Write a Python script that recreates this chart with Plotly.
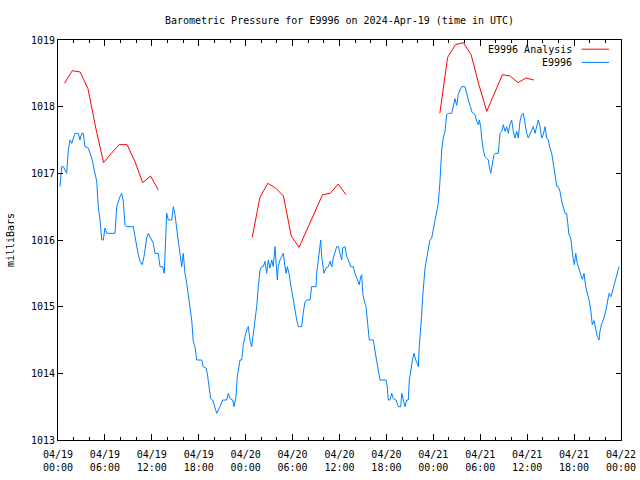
import plotly.graph_objects as go

# ---- data (hours since 2024-04-19 00:00 UTC) ----
obs_hours = [0.26, 0.47, 0.68, 1.11, 1.32, 1.53, 1.75, 2.17, 2.60, 2.81, 3.03, 3.24, 3.45, 3.87, 4.31, 4.73, 4.95,
             5.15, 5.37, 5.59, 5.79, 6.01, 6.23, 7.29, 7.51, 7.93, 8.15, 8.35, 8.57, 8.79, 9.63, 9.85, 10.06, 10.27,
             10.49, 10.78, 11.04, 11.34, 11.55, 11.98, 12.19, 12.40, 12.83, 13.04, 13.39, 13.59, 13.68, 13.81, 13.90,
             14.11, 14.54, 14.75, 14.96, 15.26, 15.51, 15.69, 15.82, 16.02, 16.24, 16.46, 16.66, 16.88, 17.10, 17.30,
             17.52, 17.74, 18.38, 18.58, 18.93, 19.09, 19.35, 19.53, 19.78, 20.08, 20.30, 20.72, 21.06, 21.57, 21.78,
             22.00, 22.34, 22.51, 22.76, 22.93, 23.06, 23.28, 23.49, 23.70, 23.91, 24.13, 24.34, 24.55, 24.77, 24.98,
             25.19, 25.41, 25.62, 25.83, 26.05, 26.25, 26.47, 26.69, 26.89, 27.11, 27.33, 27.53, 27.75, 27.88, 28.05,
             28.17, 28.39, 28.61, 28.81, 29.03, 29.16, 29.32, 29.58, 29.76, 30.01, 30.18, 30.35, 30.53, 30.73, 31.17,
             31.37, 31.59, 31.81, 32.23, 32.44, 32.99, 33.08, 33.29, 33.51, 33.60, 33.72, 33.85, 34.02, 34.27, 34.57,
             34.79, 35.00, 35.21, 35.42, 35.64, 35.85, 36.06, 36.28, 36.41, 36.70, 36.92, 37.13, 37.43, 37.76, 37.98,
             38.20, 38.40, 38.53, 38.71, 38.84, 38.97, 39.13, 39.39, 39.56, 39.68, 39.81, 40.32, 40.54, 40.76, 40.96,
             41.18, 41.95, 42.11, 42.24, 42.46, 42.68, 42.88, 43.23, 43.52, 43.83, 43.96, 44.16, 44.38, 44.59, 44.80,
             44.93, 45.11, 45.36, 45.53, 45.74, 45.95, 46.08, 46.20, 46.38, 46.51, 46.64, 46.81, 46.93, 47.15, 47.36,
             47.57, 47.79, 48.00, 48.21, 48.43, 48.63, 48.85, 48.98, 49.07, 49.27, 49.49, 49.71, 49.91, 50.35, 50.55,
             50.77, 50.99, 51.19, 51.41, 51.63, 52.05, 52.27, 52.47, 52.69, 52.91, 53.11, 53.33, 53.55, 53.75, 53.88,
             54.06, 54.19, 54.39, 54.61, 54.83, 55.03, 55.16, 55.34, 55.46, 55.59, 55.76, 55.89, 56.31, 56.53, 56.75,
             56.95, 57.17, 57.38, 57.59, 57.80, 58.02, 58.23, 58.44, 58.66, 58.87, 59.08, 59.30, 59.51, 59.72, 59.94,
             60.14, 60.36, 60.58, 60.78, 61.00, 61.22, 61.42, 61.64, 61.86, 62.06, 62.28, 62.50, 62.70, 62.92, 63.14,
             63.34, 63.56, 63.78, 63.98, 64.20, 64.42, 64.62, 64.84, 65.05, 65.18, 65.35, 65.57, 65.70, 65.90, 66.03,
             66.21, 66.41, 66.63, 66.85, 67.05, 67.27, 67.49, 67.69, 67.95, 68.16, 68.33, 68.55, 68.76, 68.97, 69.19,
             69.31, 69.53, 69.74, 70.08, 70.25, 70.47, 70.72, 70.89, 71.11, 71.32, 71.53, 71.75]
obs_values = [1016.8, 1017.1, 1017.1, 1017.0, 1017.35, 1017.5, 1017.45, 1017.6, 1017.6, 1017.5, 1017.6, 1017.6,
              1017.4, 1017.38, 1017.23, 1017.03, 1016.88, 1016.5, 1016.3, 1016.0, 1016.0, 1016.18, 1016.1, 1016.1,
              1016.5, 1016.65, 1016.7, 1016.58, 1016.22, 1016.2, 1016.2, 1016.05, 1015.9, 1015.78, 1015.68, 1015.63,
              1015.78, 1016.03, 1016.1, 1016.0, 1015.95, 1015.8, 1015.8, 1015.6, 1015.6, 1015.5, 1015.73, 1016.18,
              1016.4, 1016.3, 1016.3, 1016.5, 1016.38, 1016.1, 1015.9, 1015.7, 1015.6, 1015.8, 1015.5, 1015.35,
              1015.2, 1015.0, 1014.8, 1014.48, 1014.4, 1014.2, 1014.2, 1014.1, 1014.08, 1014.0, 1013.78, 1013.62,
              1013.6, 1013.48, 1013.4, 1013.5, 1013.6, 1013.6, 1013.7, 1013.62, 1013.6, 1013.5, 1013.65, 1013.95,
              1014.05, 1014.2, 1014.2, 1014.43, 1014.55, 1014.65, 1014.7, 1014.5, 1014.4, 1014.6, 1014.8, 1015.0,
              1015.3, 1015.55, 1015.6, 1015.6, 1015.68, 1015.5, 1015.7, 1015.58, 1015.7, 1015.6, 1015.9, 1015.7,
              1015.4, 1015.6, 1015.7, 1015.75, 1015.8, 1015.6, 1015.5, 1015.6, 1015.48, 1015.33, 1015.15, 1015.0,
              1014.88, 1014.8, 1014.7, 1014.7, 1014.92, 1015.07, 1015.1, 1015.1, 1015.3, 1015.3, 1015.5, 1015.7,
              1015.93, 1016.0, 1015.75, 1015.6, 1015.5, 1015.58, 1015.6, 1015.68, 1015.6, 1015.73, 1015.8, 1015.9,
              1015.9, 1015.8, 1015.7, 1015.88, 1015.9, 1015.75, 1015.7, 1015.6, 1015.6, 1015.5, 1015.43, 1015.35,
              1015.33, 1015.45, 1015.48, 1015.2, 1015.1, 1015.0, 1014.8, 1014.65, 1014.5, 1014.5, 1014.3, 1014.18,
              1014.05, 1013.9, 1013.9, 1013.8, 1013.6, 1013.6, 1013.7, 1013.62, 1013.6, 1013.5, 1013.5, 1013.7,
              1013.6, 1013.5, 1013.6, 1013.6, 1013.9, 1014.05, 1014.22, 1014.3, 1014.2, 1014.15, 1014.1, 1014.4,
              1014.63, 1014.88, 1015.15, 1015.38, 1015.57, 1015.73, 1015.9, 1016.0, 1016.03, 1016.15, 1016.28,
              1016.4, 1016.55, 1016.88, 1017.13, 1017.35, 1017.53, 1017.63, 1017.88, 1017.9, 1017.9, 1018.02,
              1018.12, 1018.02, 1018.18, 1018.25, 1018.3, 1018.3, 1018.18, 1018.1, 1018.02, 1017.93, 1017.9,
              1017.88, 1017.78, 1017.73, 1017.8, 1017.7, 1017.53, 1017.35, 1017.25, 1017.22, 1017.2, 1017.1, 1017.0,
              1017.08, 1017.2, 1017.28, 1017.3, 1017.3, 1017.6, 1017.63, 1017.73, 1017.63, 1017.7, 1017.6, 1017.73,
              1017.8, 1017.63, 1017.53, 1017.63, 1017.53, 1017.78, 1017.88, 1017.9, 1017.73, 1017.6, 1017.53,
              1017.58, 1017.63, 1017.7, 1017.6, 1017.73, 1017.8, 1017.7, 1017.53, 1017.58, 1017.7, 1017.53, 1017.5,
              1017.38, 1017.3, 1017.15, 1017.0, 1016.81, 1016.8, 1016.73, 1016.58, 1016.48, 1016.4, 1016.4, 1016.2,
              1016.08, 1016.03, 1015.85, 1015.7, 1015.63, 1015.8, 1015.65, 1015.55, 1015.48, 1015.41, 1015.5,
              1015.3, 1015.2, 1015.08, 1014.92, 1014.73, 1014.79, 1014.65, 1014.55, 1014.5, 1014.63, 1014.75,
              1014.8, 1014.95, 1015.05, 1015.2, 1015.15, 1015.23, 1015.3, 1015.43, 1015.53, 1015.6]

ana_hours = [0.83, 1.83, 2.83, 3.83, 4.83, 5.83, 6.83, 7.83, 8.83, 9.83, 10.83, 11.83, 12.83, None,
             24.83, 25.83, 26.83, 27.83, 28.83, 29.83, 30.83, 31.83, 32.83, 33.83, 34.83, 35.83, 36.83, None,
             48.83, 49.83, 50.83, 51.83, 52.83, 53.83, 54.83, 55.83, 56.83, 57.83, 58.83, 59.83, 60.83]
ana_values = [1018.35, 1018.54, 1018.52, 1018.27, 1017.68, 1017.16, 1017.3, 1017.43, 1017.43, 1017.18, 1016.86,
              1016.96, 1016.75, None,
              1016.04, 1016.64, 1016.85, 1016.78, 1016.66, 1016.06, 1015.89, 1016.15, 1016.42, 1016.68, 1016.7,
              1016.84, 1016.68, None,
              1017.9, 1018.74, 1018.93, 1018.96, 1018.78, 1018.33, 1017.93, 1018.2, 1018.48, 1018.46, 1018.36,
              1018.43, 1018.4]

tick_hours = [0, 6, 12, 18, 24, 30, 36, 42, 48, 54, 60, 66, 72]
tick_labels = ["04/19<br>00:00", "04/19<br>06:00", "04/19<br>12:00", "04/19<br>18:00",
               "04/20<br>00:00", "04/20<br>06:00", "04/20<br>12:00", "04/20<br>18:00",
               "04/21<br>00:00", "04/21<br>06:00", "04/21<br>12:00", "04/21<br>18:00",
               "04/22<br>00:00"]
y_ticks = [1013, 1014, 1015, 1016, 1017, 1018, 1019]

series_names = ["E9996 Analysis", "E9996"]
RED = "#ff0000"
BLUE = "#0080ff"
FONT = "DejaVu Sans Mono"

fig = go.Figure()
fig.add_trace(go.Scatter(x=obs_hours, y=obs_values, mode="lines", name=series_names[1],
                         line=dict(color=BLUE, width=1), showlegend=False))
fig.add_trace(go.Scatter(x=ana_hours, y=ana_values, mode="lines", name=series_names[0],
                         line=dict(color=RED, width=1), connectgaps=False, showlegend=False))

# gnuplot-style key: right-aligned text with line sample to its right
key_rows = [(series_names[0], RED, 0.977), (series_names[1], BLUE, 0.944)]
for name, col, yp in key_rows:
    fig.add_annotation(x=0.9165, y=yp, xref="paper", yref="paper", text=name, showarrow=False,
                       xanchor="right", yanchor="middle", font=dict(family=FONT, size=10, color="black"))
    fig.add_shape(type="line", xref="paper", yref="paper", x0=0.930, x1=0.979, y0=yp, y1=yp,
                  line=dict(color=col, width=1))

fig.update_layout(
    width=640, height=480,
    margin=dict(l=58, r=19, t=40, b=40, autoexpand=False),
    paper_bgcolor="white", plot_bgcolor="white",
    font=dict(family=FONT, size=10, color="black"),
    title=dict(text="Barometric Pressure for E9996 on 2024-Apr-19 (time in UTC)",
               xref="paper", x=0.5, xanchor="center", y=0.958, yanchor="middle",
               font=dict(family=FONT, size=10, color="black")),
    xaxis=dict(range=[0, 72], tickmode="array", tickvals=tick_hours, ticktext=tick_labels,
               showgrid=False, zeroline=False, showline=True, linecolor="black", linewidth=1,
               mirror="ticks", ticks="inside", ticklen=6, tickcolor="black", tickwidth=1,
               ticklabelstandoff=5, ticklabeloverflow="allow",
               minor=dict(dtick=2, ticks="inside", ticklen=3, tickcolor="black", showgrid=False),
               tickfont=dict(family=FONT, size=10)),
    yaxis=dict(range=[1013, 1019], tickmode="array", tickvals=y_ticks, ticktext=[str(v) for v in y_ticks],
               showgrid=False, zeroline=False, showline=True, linecolor="black", linewidth=1,
               mirror="ticks", ticks="inside", ticklen=5, tickcolor="black", tickwidth=1,
               tickfont=dict(family=FONT, size=10),
               title=dict(text="milliBars", standoff=14, font=dict(family=FONT, size=10))),
)

# remove the default page margin so the 640x480 figure fills the window exactly
fig.write_html("out.html", config={"displayModeBar": False},
               post_script="document.body.style.margin='0';document.body.style.overflow='hidden';")
